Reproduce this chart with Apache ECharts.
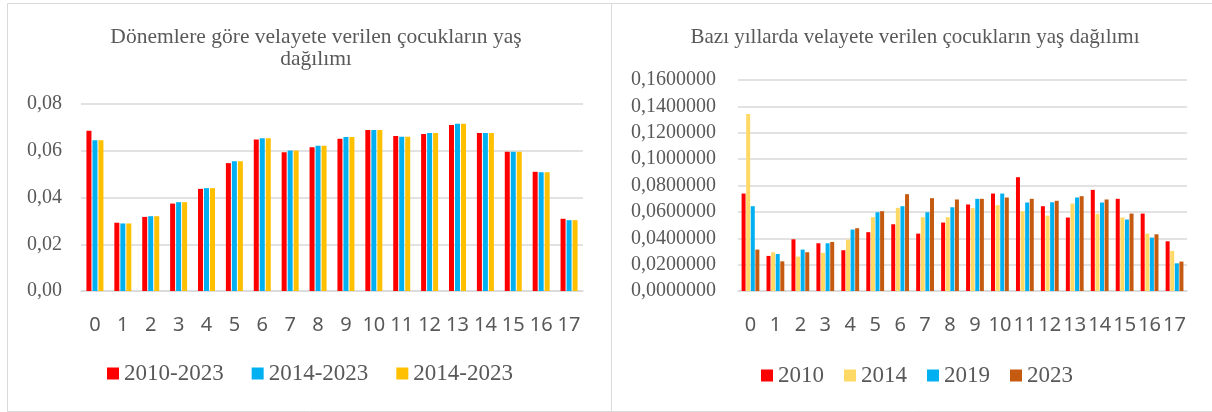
<!DOCTYPE html>
<html>
<head>
<meta charset="utf-8">
<script src="https://cdn.jsdelivr.net/npm/echarts@6/dist/echarts.min.js"></script>
<style>
html,body{margin:0;padding:0;background:#fff;}
#c{width:1212px;height:412px;}
</style>
</head>
<body>
<div id="c"></div>
<script>
const ages = ['0','1','2','3','4','5','6','7','8','9','10','11','12','13','14','15','16','17'];

const leftTitle = 'Dönemlere göre velayete verilen çocukların yaş\ndağılımı';
const rightTitle = 'Bazı yıllarda velayete verilen çocukların yaş dağılımı';

const leftNames = ['2010-2023', '2014-2023', '2014-2023 '];
const p2010_2023 = [0.0686,0.0292,0.0317,0.0374,0.0437,0.0547,0.0648,0.0594,0.0615,0.0651,0.0689,0.0663,0.0672,0.0710,0.0676,0.0596,0.0510,0.0309];
const p2014_2023a = [0.0645,0.0289,0.0320,0.0380,0.0440,0.0555,0.0653,0.0601,0.0621,0.0659,0.0689,0.0660,0.0676,0.0715,0.0676,0.0596,0.0508,0.0303];
const p2014_2023b = [0.0645,0.0289,0.0320,0.0380,0.0440,0.0555,0.0653,0.0601,0.0621,0.0659,0.0689,0.0660,0.0676,0.0715,0.0676,0.0596,0.0508,0.0303];

const rightNames = ['2010', '2014', '2019', '2023'];
const y2010 = [0.0739,0.0266,0.0392,0.0362,0.0309,0.0446,0.0506,0.0435,0.0519,0.0656,0.0739,0.0863,0.0643,0.0557,0.0767,0.0699,0.0587,0.0377];
const y2014 = [0.1342,0.0294,0.0261,0.0289,0.0390,0.0560,0.0630,0.0560,0.0560,0.0628,0.0651,0.0605,0.0572,0.0663,0.0585,0.0557,0.0435,0.0304];
const y2019 = [0.0643,0.0281,0.0314,0.0362,0.0466,0.0597,0.0643,0.0597,0.0635,0.0699,0.0739,0.0671,0.0673,0.0709,0.0671,0.0542,0.0405,0.0210];
const y2023 = [0.0314,0.0225,0.0294,0.0372,0.0476,0.0605,0.0734,0.0704,0.0694,0.0699,0.0709,0.0699,0.0684,0.0719,0.0694,0.0587,0.0430,0.0223];

const leftColors = ['#FF0000', '#00B0F0', '#FFC000'];
const rightColors = ['#FF0000', '#FFD966', '#00B0F0', '#C55A11'];

const serif = '"Liberation Serif", "DejaVu Serif", serif';
const sans = '"Noto Sans", "Open Sans", sans-serif';
const grey = '#595959';
const gridGrey = '#D9D9D9';

const chart = echarts.init(document.getElementById('c'), null, {renderer: 'canvas'});

function xAxisCfg(gi) {
  return {
    type: 'category', gridIndex: gi, data: ages,
    axisTick: {show: false},
    axisLine: {lineStyle: {color: gridGrey, width: 1.5}},
    axisLabel: {interval: 0, color: grey, fontFamily: sans, fontSize: 20, margin: 24}
  };
}
function yAxisCfg(gi, max, digits, margin) {
  return {
    type: 'value', gridIndex: gi, min: 0, max: max, interval: 0.02,
    axisLine: {show: false}, axisTick: {show: false},
    splitLine: {lineStyle: {color: gridGrey, width: 1.5}},
    axisLabel: {
      color: grey, fontFamily: serif, fontSize: 20, margin: margin,
      formatter: v => v.toFixed(digits).replace('.', ',')
    }
  };
}

const leftData = [p2010_2023, p2014_2023a, p2014_2023b];
const rightData = [y2010, y2014, y2019, y2023];

const series = [];
leftNames.forEach((n, i) => series.push({
  type: 'bar', name: n, xAxisIndex: 0, yAxisIndex: 0, data: leftData[i],
  barWidth: 5, barGap: '20%', itemStyle: {color: leftColors[i]}
}));
rightNames.forEach((n, i) => series.push({
  type: 'bar', name: n, xAxisIndex: 1, yAxisIndex: 1, data: rightData[i],
  barWidth: 4, barGap: '15%', itemStyle: {color: rightColors[i]}
}));

chart.setOption({
  animation: false,
  backgroundColor: '#fff',
  grid: [
    {left: 81, right: 629, top: 104, bottom: 121},
    {left: 738, right: 25, top: 80, bottom: 121}
  ],
  xAxis: [xAxisCfg(0), xAxisCfg(1)],
  yAxis: [yAxisCfg(0, 0.08, 2, 19), yAxisCfg(1, 0.16, 7, 22)],
  legend: [
    {
      data: leftNames, left: 107, top: 362, padding: 0, icon: 'rect', itemWidth: 12, itemHeight: 12, itemGap: 28,
      textStyle: {color: grey, fontFamily: serif, fontSize: 23}, selectedMode: false
    },
    {
      data: rightNames, left: 761, top: 364, padding: 0, icon: 'rect', itemWidth: 12, itemHeight: 12, itemGap: 20,
      textStyle: {color: grey, fontFamily: serif, fontSize: 23}, selectedMode: false
    }
  ],
  graphic: [
    {type: 'rect', shape: {x: 7.5, y: 3.5, width: 604, height: 408}, style: {fill: 'none', stroke: gridGrey, lineWidth: 1}, silent: true, z: -1},
    {type: 'rect', shape: {x: 611.5, y: 3.5, width: 610, height: 408}, style: {fill: 'none', stroke: gridGrey, lineWidth: 1}, silent: true, z: -1},
    {type: 'text', x: 316, y: 26, style: {text: leftTitle, textAlign: 'center', fill: grey, font: '21.5px ' + serif, lineHeight: 22}},
    {type: 'text', x: 915, y: 26, style: {text: rightTitle, textAlign: 'center', fill: grey, font: '21px ' + serif, lineHeight: 22}}
  ],
  series: series
});
</script>
</body>
</html>
